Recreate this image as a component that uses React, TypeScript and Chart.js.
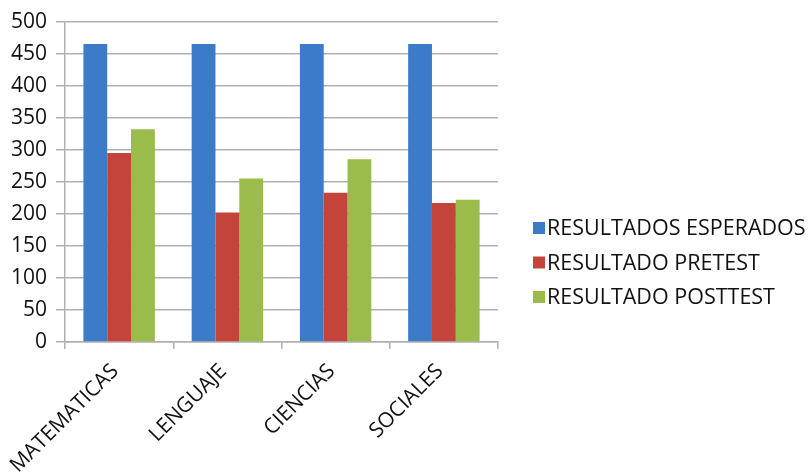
import React, { useEffect, useRef } from "react";
import { Chart, registerables } from "chart.js";

Chart.register(...registerables);

const categories = ["MATEMATICAS", "LENGUAJE", "CIENCIAS", "SOCIALES"];
const seriesNames = ["RESULTADOS ESPERADOS", "RESULTADO PRETEST", "RESULTADO POSTTEST"];
const seriesColors = ["#3B7BC8", "#C4443C", "#9BBB4A"];
const esperados = [465, 465, 465, 465];
const pretest = [295, 202, 233, 217];
const posttest = [332, 255, 285, 222];
const yMax = 500;
const yStep = 50;

const FONT = "'Open Sans', 'DejaVu Sans', sans-serif";
const GRID = "#B0B0B0";
const TEXT = "#111111";

// Legend drawn on the right of the plot, one row per dataset.
const sideLegend = {
  id: "sideLegend",
  afterDraw(chart: Chart) {
    const ctx = chart.ctx;
    const x = 533;
    const y0 = 228;
    const gap = 34.5;
    const box = 12;
    ctx.save();
    ctx.font = `21.5px ${FONT}`;
    ctx.textBaseline = "middle";
    ctx.textAlign = "left";
    chart.data.datasets.forEach((ds, i) => {
      const y = y0 + i * gap;
      ctx.fillStyle = ds.backgroundColor as string;
      ctx.fillRect(x, y - box / 2, box, box);
      ctx.fillStyle = TEXT;
      ctx.fillText(String(ds.label), x + box + 2, y + 1);
    });
    ctx.restore();
  },
};

export default function App() {
  const ref = useRef<HTMLCanvasElement | null>(null);

  useEffect(() => {
    if (!ref.current) return;
    const values = [esperados, pretest, posttest];
    const chart = new Chart(ref.current, {
      type: "bar",
      data: {
        labels: categories,
        datasets: seriesNames.map((name, i) => ({
          label: name,
          data: values[i],
          backgroundColor: seriesColors[i],
          borderWidth: 0,
          categoryPercentage: 0.66,
          barPercentage: 1,
        })),
      },
      options: {
        responsive: false,
        animation: false,
        layout: { padding: { top: 20, right: 312, left: 0, bottom: 0 } },
        plugins: {
          legend: { display: false },
          tooltip: { enabled: false },
        },
        scales: {
          x: {
            grid: {
              display: true,
              drawOnChartArea: false,
              drawTicks: true,
              tickLength: 7,
              color: GRID,
              lineWidth: 1.5,
              offset: true,
            },
            border: { display: true, color: GRID, width: 1.5 },
            ticks: {
              minRotation: 45,
              maxRotation: 45,
              autoSkip: false,
              padding: 10,
              labelOffset: -4,
              color: TEXT,
              font: { family: FONT, size: 21 },
            },
            afterFit(scale: any) {
              scale.height = 134;
            },
          },
          y: {
            min: 0,
            max: yMax,
            ticks: {
              stepSize: yStep,
              padding: 9,
              color: TEXT,
              font: { family: FONT, size: 21 },
            },
            grid: {
              color: GRID,
              lineWidth: 1.5,
              drawTicks: true,
              tickLength: 9,
            },
            border: { display: true, color: GRID, width: 1.5 },
            afterFit(scale: any) {
              scale.width = 64;
            },
          },
        },
      },
      plugins: [sideLegend],
    });
    return () => chart.destroy();
  }, []);

  return (
    <div style={{ position: "fixed", left: 0, top: 0, width: 810, height: 476, background: "#fff" }}>
      <canvas ref={ref} width={810} height={476} style={{ display: "block" }} />
    </div>
  );
}
